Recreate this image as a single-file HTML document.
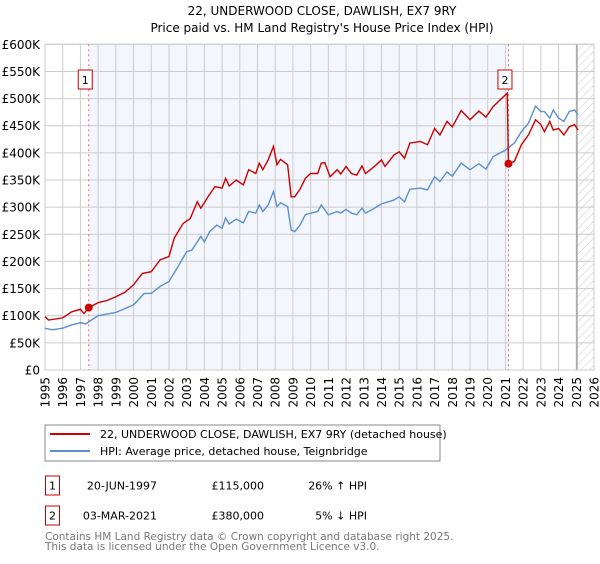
<!DOCTYPE html>
<html><head><meta charset="utf-8"><style>
body{margin:0;background:#fff;font-family:"DejaVu Sans","Liberation Sans",sans-serif;}
svg text{font-family:"DejaVu Sans","Liberation Sans",sans-serif;}
</style></head><body>
<svg id="c" width="600" height="560" xmlns="http://www.w3.org/2000/svg">
<defs><pattern id="hatch" width="6" height="6" patternUnits="userSpaceOnUse" patternTransform="rotate(45)"><line x1="0" y1="0" x2="0" y2="6" stroke="#bbb" stroke-width="0.8"/></pattern></defs>
<text x="322" y="15" text-anchor="middle" font-size="12" fill="#000">22, UNDERWOOD CLOSE, DAWLISH, EX7 9RY</text>
<text x="322" y="32" text-anchor="middle" font-size="12" fill="#000">Price paid vs. HM Land Registry's House Price Index (HPI)</text>
<g id="plot"></g>
<rect x="45" y="425" width="395" height="36" fill="#fff" stroke="#888"/>
<line x1="50" y1="434" x2="90" y2="434" stroke="#cc0000" stroke-width="2"/>
<text x="100" y="438" font-size="11">22, UNDERWOOD CLOSE, DAWLISH, EX7 9RY (detached house)</text>
<line x1="50" y1="451" x2="90" y2="451" stroke="#5b8fd0" stroke-width="2"/>
<text x="100" y="455" font-size="11">HPI: Average price, detached house, Teignbridge</text>
<g>
<rect x="45.5" y="476" width="14" height="19" fill="#fff" stroke="#cc0000"/>
<text x="52.5" y="489.5" font-size="11" text-anchor="middle">1</text>
<text x="157" y="489.5" font-size="11" text-anchor="end">20-JUN-1997</text>
<text x="264" y="489.5" font-size="11" text-anchor="end">£115,000</text>
<text x="367" y="489.5" font-size="11" text-anchor="end">26% ↑ HPI</text></g>
<g>
<rect x="45.5" y="506" width="14" height="19" fill="#fff" stroke="#cc0000"/>
<text x="52.5" y="519.5" font-size="11" text-anchor="middle">2</text>
<text x="157" y="519.5" font-size="11" text-anchor="end">03-MAR-2021</text>
<text x="264" y="519.5" font-size="11" text-anchor="end">£380,000</text>
<text x="367" y="519.5" font-size="11" text-anchor="end">5% ↓ HPI</text></g>
<text x="45" y="540" font-size="10.5" fill="#777">Contains HM Land Registry data © Crown copyright and database right 2025.</text>
<text x="45" y="550" font-size="10.5" fill="#777">This data is licensed under the Open Government Licence v3.0.</text>
</svg>
<script>
const yTicks=[0,50,100,150,200,250,300,350,400,450,500,550,600];
const yTickLabels=["£0","£50K","£100K","£150K","£200K","£250K","£300K","£350K","£400K","£450K","£500K","£550K","£600K"];
const xYears=[1995,1996,1997,1998,1999,2000,2001,2002,2003,2004,2005,2006,2007,2008,2009,2010,2011,2012,2013,2014,2015,2016,2017,2018,2019,2020,2021,2022,2023,2024,2025,2026];
const hpiT=[1995,1995.4,1996,1996.5,1997,1997.3,1998,1999,2000,2000.6,2001,2001.5,2002,2002.5,2003,2003.3,2003.8,2004,2004.3,2004.7,2005,2005.2,2005.4,2005.8,2006.2,2006.5,2006.9,2007.1,2007.3,2007.6,2007.9,2008.1,2008.3,2008.7,2008.9,2009.1,2009.4,2009.7,2010,2010.4,2010.6,2011,2011.5,2011.7,2012,2012.3,2012.6,2012.9,2013.1,2013.6,2014,2014.7,2015,2015.3,2015.6,2016.2,2016.6,2017,2017.3,2017.7,2018,2018.5,2019,2019.5,2019.9,2020.3,2021,2021.5,2021.9,2022.3,2022.7,2023,2023.2,2023.5,2023.7,2024,2024.3,2024.6,2024.9,2025.1];
const hpiV=[77,74,77,83,87,85,100,106,120,141,141,154,163,190,218,221,246,236,255,267,261,280,269,278,271,292,289,304,292,304,329,301,308,301,258,255,267,286,289,292,304,286,292,289,296,289,286,298,289,298,306,313,319,310,333,335,332,356,347,365,357,381,369,380,370,393,405,418,439,455,486,476,476,464,479,464,458,476,479,470];
const priceT=[1995,1995.2,1996,1996.5,1997,1997.2,1997.47,1998,1998.5,1999,1999.5,2000,2000.5,2001,2001.5,2002,2002.3,2002.8,2003.2,2003.6,2003.8,2004.2,2004.6,2005,2005.2,2005.4,2005.8,2006.2,2006.5,2006.9,2007.1,2007.3,2007.6,2007.9,2008.1,2008.3,2008.7,2008.9,2009.1,2009.4,2009.7,2010,2010.4,2010.6,2010.8,2011.1,2011.5,2011.7,2012,2012.3,2012.6,2012.9,2013.1,2013.6,2014,2014.2,2014.7,2015,2015.3,2015.6,2016.2,2016.6,2017,2017.3,2017.7,2018,2018.5,2019,2019.5,2019.9,2020.3,2021.1,2021.17,2021.5,2021.9,2022.3,2022.7,2023,2023.2,2023.5,2023.7,2024,2024.3,2024.6,2024.9,2025.1];
const priceV=[98,92,96,107,112,104,115,124,128,135,143,157,178,181,203,209,243,270,279,310,298,319,338,335,353,339,350,341,369,362,381,369,387,412,378,388,378,319,319,333,353,362,362,381,382,356,369,361,375,362,359,376,362,375,387,375,396,402,390,418,421,415,445,433,458,448,478,461,477,466,485,510,380,384,415,433,461,452,439,458,442,445,433,448,452,442];
const saleT=[1997.47,2021.17];
const saleV=[115,380];
const X0=45,X1=594,Y0=370,Y1=44.3;
const xs=t=>X0+(t-1995)/31*(X1-X0);
const ys=v=>Y0-v/600*(Y0-Y1);
const NS="http://www.w3.org/2000/svg";
const g=document.getElementById('plot');
function mk(tag,attrs,parent){const e=document.createElementNS(NS,tag);for(const k in attrs)e.setAttribute(k,attrs[k]);(parent||g).appendChild(e);return e;}
let e=mk('rect',{x:xs(saleT[0]),y:Y1,width:xs(saleT[1])-xs(saleT[0]),height:Y0-Y1,fill:'#f3f6fd'});


e=mk('rect',{x:xs(2025.04),y:Y1,width:X1-xs(2025.04),height:Y0-Y1,fill:'url(#hatch)'});


yTicks.forEach((v,i)=>{
 const l=mk('line',{x1:X0,x2:X1,y1:ys(v),y2:ys(v),stroke:'#cccccc','stroke-width':1});
 
 
 const t=mk('text',{x:40,y:ys(v)+4.5,'text-anchor':'end','font-size':'12'});
 t.textContent=yTickLabels[i];
 
 
});
xYears.forEach(yr=>{
 const l=mk('line',{x1:xs(yr),x2:xs(yr),y1:Y1,y2:Y0,stroke:'#cccccc','stroke-width':1});
 
 
 const t=mk('text',{x:0,y:0,'font-size':'12','text-anchor':'end',transform:`translate(${xs(yr)+4.5},377) rotate(-90)`});
 t.textContent=yr;
 
 
});
e=mk('line',{x1:xs(2025.04),x2:xs(2025.04),y1:Y1,y2:Y0,stroke:'#888','stroke-width':1});


e=mk('rect',{x:X0,y:Y1,width:X1-X0,height:Y0-Y1,fill:'none',stroke:'#ccc'});


saleT.forEach((t,i)=>{
 const l=mk('line',{x1:xs(t),x2:xs(t),y1:Y1,y2:Y0,stroke:'#ee6666','stroke-width':1,'stroke-dasharray':'2,3'});
 
 
});
e=mk('polyline',{points:hpiT.map((t,i)=>xs(t)+','+ys(hpiV[i])).join(' '),fill:'none',stroke:'#5b8fd0','stroke-width':1.4});


e=mk('polyline',{points:priceT.map((t,i)=>xs(t)+','+ys(priceV[i])).join(' '),fill:'none',stroke:'#cc0000','stroke-width':1.4});


saleT.forEach((t,i)=>{
 const c=mk('circle',{cx:xs(t),cy:ys(saleV[i]),r:4,fill:'#cc0000'});
 
 
 const b=mk('rect',{x:xs(t)-10.5,y:70,width:14,height:19,fill:'#fff',stroke:'#cc0000'});
 
 
 const tx=mk('text',{x:xs(t)-3.5,y:84,'font-size':'11','text-anchor':'middle'});
 tx.textContent=String(i+1);
 
 
});
</script>
</body></html>
